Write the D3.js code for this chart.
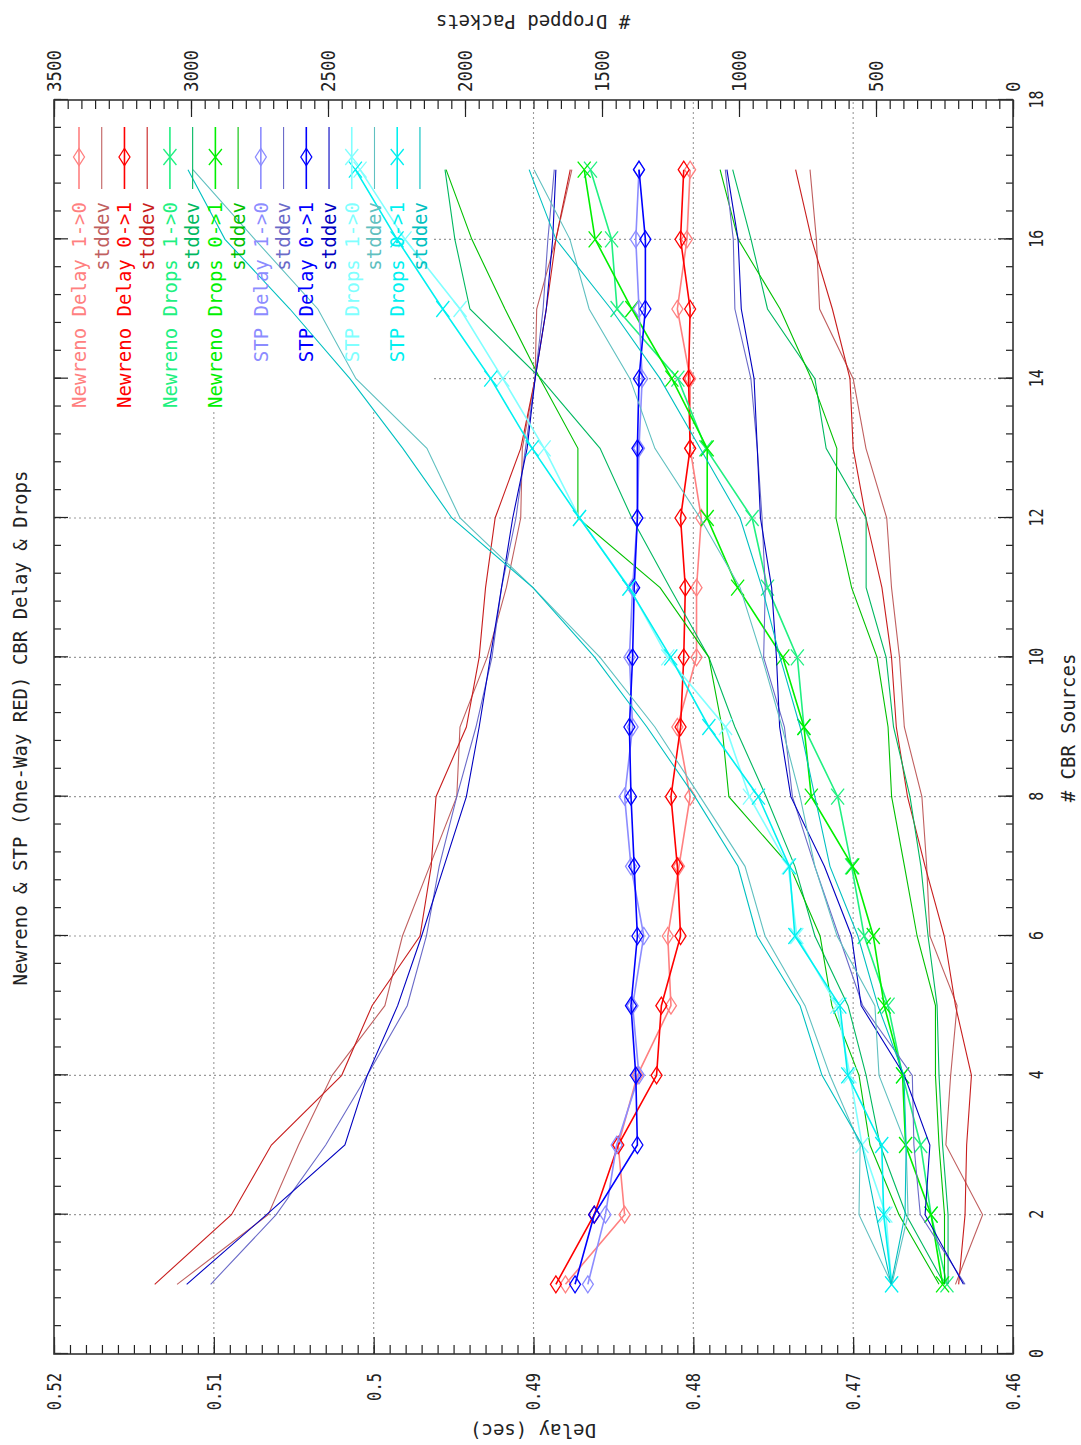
<!DOCTYPE html>
<html>
<head>
<meta charset="utf-8">
<script src="https://cdn.jsdelivr.net/npm/d3@7"></script>
<style>
  html, body { margin: 0; padding: 0; background: #fff; }
  svg { display: block; }
  text { font-family: "DejaVu Sans Mono", "Liberation Mono", monospace; }
</style>
</head>
<body>
<div id="chart"></div>
<script>
// ---- data -------------------------------------------------------------
const cbrSources = [1, 2, 3, 4, 5, 6, 7, 8, 9, 10, 11, 12, 13, 14, 15, 16, 17];

const cbrTicks = [0, 2, 4, 6, 8, 10, 12, 14, 16, 18];
const delayTicks = [0.46, 0.47, 0.48, 0.49, 0.50, 0.51, 0.52];
const dropTicks = [0, 500, 1000, 1500, 2000, 2500, 3000, 3500];

// mean CBR delay (sec)
const nrDelay10  = [0.4880, 0.4843, 0.4847, 0.4835, 0.4814, 0.4816, 0.4809, 0.4802, 0.4810, 0.4798, 0.4798, 0.4795, 0.4802, 0.4802, 0.4810, 0.4804, 0.4802];
const nrDelay01  = [0.4886, 0.4862, 0.4847, 0.4823, 0.4820, 0.4808, 0.4810, 0.4814, 0.4808, 0.4806, 0.4805, 0.4808, 0.4802, 0.4803, 0.4802, 0.4808, 0.4806];
const stpDelay10 = [0.4866, 0.4855, 0.4848, 0.4834, 0.4838, 0.4831, 0.4839, 0.4843, 0.4838, 0.4840, 0.4838, 0.4835, 0.4834, 0.4832, 0.4834, 0.4836, 0.4834];
const stpDelay01 = [0.4874, 0.4862, 0.4835, 0.4836, 0.4839, 0.4835, 0.4837, 0.4839, 0.4840, 0.4838, 0.4837, 0.4835, 0.4835, 0.4834, 0.4830, 0.4830, 0.4834];

// delay +/- one standard deviation (sec)
const nrDelay10SdHi  = [0.5123, 0.5066, 0.5047, 0.5026, 0.4993, 0.4982, 0.4965, 0.4948, 0.4946, 0.4929, 0.4917, 0.4908, 0.4907, 0.4899, 0.4898, 0.4886, 0.4876];
const nrDelay10SdLo  = [0.4636, 0.4619, 0.4642, 0.4639, 0.4635, 0.4652, 0.4654, 0.4657, 0.4668, 0.4671, 0.4676, 0.4679, 0.4692, 0.4700, 0.4721, 0.4723, 0.4727];
const nrDelay01SdHi  = [0.5137, 0.5089, 0.5064, 0.5020, 0.5001, 0.4971, 0.4964, 0.4961, 0.4942, 0.4934, 0.4930, 0.4924, 0.4908, 0.4899, 0.4892, 0.4886, 0.4877];
const nrDelay01SdLo  = [0.4634, 0.4630, 0.4629, 0.4626, 0.4636, 0.4643, 0.4655, 0.4666, 0.4673, 0.4676, 0.4682, 0.4692, 0.4700, 0.4702, 0.4713, 0.4726, 0.4736];
const stpDelay10SdHi = [0.5102, 0.5061, 0.5030, 0.5004, 0.4979, 0.4967, 0.4959, 0.4948, 0.4936, 0.4926, 0.4920, 0.4911, 0.4905, 0.4899, 0.4894, 0.4891, 0.4887];
const stpDelay10SdLo = [0.4630, 0.4658, 0.4662, 0.4663, 0.4694, 0.4709, 0.4724, 0.4738, 0.4743, 0.4756, 0.4755, 0.4757, 0.4760, 0.4764, 0.4774, 0.4775, 0.4780];
const stpDelay01SdHi = [0.5117, 0.5067, 0.5018, 0.5004, 0.4985, 0.4970, 0.4956, 0.4942, 0.4934, 0.4927, 0.4920, 0.4913, 0.4904, 0.4899, 0.4892, 0.4888, 0.4886];
const stpDelay01SdLo = [0.4631, 0.4655, 0.4652, 0.4668, 0.4695, 0.4701, 0.4718, 0.4739, 0.4746, 0.4748, 0.4751, 0.4758, 0.4760, 0.4762, 0.4770, 0.4772, 0.4779];

// mean dropped packets
const nrDrops10  = [241, 299, 337, 403, 456, 543, 589, 640, 763, 787, 896, 952, 1121, 1223, 1445, 1465, 1542];
const nrDrops01  = [257, 299, 392, 403, 470, 510, 585, 736, 763, 840, 1005, 1116, 1116, 1245, 1391, 1525, 1565];
const stpDrops10 = [443, 464, 551, 595, 643, 789, 820, 962, 1049, 1260, 1400, 1582, 1711, 1862, 2018, 2219, 2383];
const stpDrops01 = [443, 472, 479, 603, 632, 796, 816, 929, 1110, 1249, 1402, 1582, 1755, 1906, 2081, 2248, 2400];

// dropped packets +/- one standard deviation
const nrDrops10SdHi  = [250, 390, 485, 536, 602, 723, 796, 901, 1015, 1110, 1252, 1391, 1507, 1723, 1982, 2037, 2073];
const nrDrops10SdLo  = [237, 237, 257, 270, 277, 310, 336, 376, 436, 463, 536, 536, 682, 723, 896, 956, 1023];
const nrDrops01SdHi  = [270, 416, 522, 562, 661, 704, 814, 1037, 1062, 1110, 1288, 1588, 1588, 1726, 1854, 1975, 2069];
const nrDrops01SdLo  = [250, 250, 270, 283, 283, 350, 396, 443, 456, 496, 589, 646, 643, 736, 850, 1003, 1069];
const stpDrops10SdHi = [442, 562, 558, 668, 759, 905, 978, 1142, 1307, 1507, 1752, 2018, 2139, 2398, 2537, 2767, 2993];
const stpDrops10SdLo = [442, 383, 390, 489, 504, 642, 723, 777, 843, 916, 996, 1142, 1307, 1398, 1547, 1617, 1748];
const stpDrops01SdHi = [445, 500, 551, 697, 777, 934, 1004, 1161, 1336, 1526, 1752, 2048, 2227, 2420, 2639, 2876, 3011];
const stpDrops01SdLo = [445, 394, 390, 398, 493, 566, 668, 723, 777, 850, 916, 996, 1142, 1288, 1467, 1668, 1766];

// ---- plot order, legend and styling ---------------------------------
const series = [
  { label: "Newreno Delay 1->0", axis: "delay", mean: nrDelay10, color: "#ff8080", marker: "diamond" },
  { label: "stddev", axis: "delay", hi: nrDelay10SdHi, lo: nrDelay10SdLo, color: "#c06060" },
  { label: "Newreno Delay 0->1", axis: "delay", mean: nrDelay01, color: "#ff0000", marker: "diamond" },
  { label: "stddev", axis: "delay", hi: nrDelay01SdHi, lo: nrDelay01SdLo, color: "#c81e1e" },
  { label: "Newreno Drops 1->0", axis: "drops", mean: nrDrops10, color: "#20f080", marker: "cross" },
  { label: "stddev", axis: "drops", hi: nrDrops10SdHi, lo: nrDrops10SdLo, color: "#00b860" },
  { label: "Newreno Drops 0->1", axis: "drops", mean: nrDrops01, color: "#00f000", marker: "cross" },
  { label: "stddev", axis: "drops", hi: nrDrops01SdHi, lo: nrDrops01SdLo, color: "#00c000" },
  { label: "STP Delay 1->0", axis: "delay", mean: stpDelay10, color: "#8c8cff", marker: "diamond" },
  { label: "stddev", axis: "delay", hi: stpDelay10SdHi, lo: stpDelay10SdLo, color: "#6a6ac8" },
  { label: "STP Delay 0->1", axis: "delay", mean: stpDelay01, color: "#0000ff", marker: "diamond" },
  { label: "stddev", axis: "delay", hi: stpDelay01SdHi, lo: stpDelay01SdLo, color: "#0000c0" },
  { label: "STP Drops 1->0", axis: "drops", mean: stpDrops10, color: "#80ffff", marker: "cross" },
  { label: "stddev", axis: "drops", hi: stpDrops10SdHi, lo: stpDrops10SdLo, color: "#60c0c0" },
  { label: "STP Drops 0->1", axis: "drops", mean: stpDrops01, color: "#00f0f0", marker: "cross" },
  { label: "stddev", axis: "drops", hi: stpDrops01SdHi, lo: stpDrops01SdLo, color: "#00c0c0" }
];

// ---- canvas: the landscape plot is drawn into a group turned a quarter
// turn counter-clockwise so it fills the portrait page ----------------
const W = 1081, H = 1445;
const svg = d3.select("#chart").append("svg").attr("width", W).attr("height", H);
svg.append("rect").attr("width", W).attr("height", H).attr("fill", "#fff");
const g = svg.append("g").attr("transform", `translate(0,${H}) rotate(-90)`);

const plot = { left: 91, right: 1345, top: 54, bottom: 1013 };
const x = d3.scaleLinear().domain([0, 18]).range([plot.left, plot.right]);
const yDelay = d3.scaleLinear().domain([0.46, 0.52]).range([plot.bottom, plot.top]);
const yDrops = d3.scaleLinear().domain([0, 3500]).range([plot.bottom, plot.top]);
const yFor = s => (s.axis === "delay" ? yDelay : yDrops);

const FONT = 19;
const TICK_FONT = 20;
const INK = "#222";

// ---- grid ------------------------------------------------------------
const grid = g.append("g").attr("stroke", "#9a9a9a").attr("stroke-width", 1.1)
  .attr("stroke-dasharray", "2,3");
cbrTicks.filter(t => t > 0 && t < 18).forEach(t => {
  grid.append("line").attr("x1", x(t)).attr("x2", x(t))
    .attr("y1", plot.top).attr("y2", plot.bottom);
});
delayTicks.filter(t => t > 0.46 && t < 0.52).forEach(t => {
  grid.append("line").attr("x1", plot.left).attr("x2", plot.right)
    .attr("y1", yDelay(t)).attr("y2", yDelay(t));
});

// key area is opaque over the grid
const key = { left: 1035, right: plot.right, top: plot.top, bottom: 430 };
g.append("rect").attr("x", key.left).attr("y", key.top + 1)
  .attr("width", key.right - key.left - 1).attr("height", key.bottom - key.top)
  .attr("fill", "#fff");

// ---- markers ---------------------------------------------------------
function markerPath(type) {
  if (type === "diamond") return "M0,-5.5L8.5,0L0,5.5L-8.5,0Z";
  return "M-8,-6.5L8,6.5M-8,6.5L8,-6.5";
}

// ---- series ----------------------------------------------------------
const dataLayer = g.append("g").attr("fill", "none");
const legendLayer = g.append("g");
const keyRow = 22.73;
const keyY0 = 79;
const keyText = 1243;
const keyLineX1 = 1256, keyLineX2 = 1318, keyMarkX = 1288;

series.forEach((s, i) => {
  const yS = yFor(s);
  const line = d3.line().x(d => x(d[0])).y(d => yS(d[1]));
  if (s.mean) {
    const pts = cbrSources.map((c, k) => [c, s.mean[k]]);
    dataLayer.append("path").attr("d", line(pts))
      .attr("stroke", s.color).attr("stroke-width", 1.6);
    dataLayer.append("g").selectAll("path").data(pts).join("path")
      .attr("transform", d => `translate(${x(d[0])},${yS(d[1])})`)
      .attr("d", markerPath(s.marker))
      .attr("stroke", s.color).attr("stroke-width", 1.3).attr("fill", "none");
  } else {
    [s.hi, s.lo].forEach(arr => {
      const pts = cbrSources.map((c, k) => [c, arr[k]]);
      dataLayer.append("path").attr("d", line(pts))
        .attr("stroke", s.color).attr("stroke-width", 1.1);
    });
  }

  // key entry
  const cy = keyY0 + keyRow * i;
  legendLayer.append("text").attr("x", keyText).attr("y", cy).attr("dy", "0.36em")
    .attr("text-anchor", "end").attr("font-size", FONT).attr("fill", s.color)
    .text(s.label);
  legendLayer.append("line").attr("x1", keyLineX1).attr("x2", keyLineX2)
    .attr("y1", cy).attr("y2", cy).attr("stroke", s.color)
    .attr("stroke-width", s.mean ? 1.6 : 1.1);
  if (s.mean) {
    legendLayer.append("path").attr("transform", `translate(${keyMarkX},${cy})`)
      .attr("d", markerPath(s.marker)).attr("stroke", s.color)
      .attr("stroke-width", 1.3).attr("fill", "none");
  }
});

// ---- frame and axes --------------------------------------------------
function styleAxis(sel, labelWidth) {
  sel.select(".domain").remove();
  sel.selectAll(".tick line").attr("stroke", INK).attr("stroke-width", 1.2);
  sel.selectAll(".tick text").attr("fill", INK).attr("font-size", TICK_FONT)
    .attr("font-family", "'DejaVu Sans Mono', monospace")
    .each(function () {
      const t = d3.select(this);
      const n = t.text().length;
      if (n) t.attr("textLength", n * labelWidth).attr("lengthAdjust", "spacingAndGlyphs");
    });
}

const cbrMinor = d3.range(0, 46).map(i => +(i * 0.4).toFixed(1));
const delayMinor = d3.range(0, 61).map(i => +(0.46 + i * 0.001).toFixed(3));
const dropMinor = d3.range(0, 71).map(i => i * 50);

// CBR axis (bottom) and its mirror (top)
g.append("g").attr("transform", `translate(0,${plot.bottom})`)
  .call(d3.axisBottom(x).tickValues(cbrMinor).tickSize(-7).tickFormat(""))
  .call(sel => styleAxis(sel, 9));
g.append("g").attr("transform", `translate(0,${plot.bottom})`)
  .call(d3.axisBottom(x).tickValues(cbrTicks).tickSize(-15).tickPadding(16).tickFormat(d3.format("d")))
  .call(sel => styleAxis(sel, 9));
g.append("g").attr("transform", `translate(0,${plot.top})`)
  .call(d3.axisTop(x).tickValues(cbrMinor).tickSize(-7).tickFormat(""))
  .call(sel => styleAxis(sel, 9));
g.append("g").attr("transform", `translate(0,${plot.top})`)
  .call(d3.axisTop(x).tickValues(cbrTicks).tickSize(-14).tickFormat(""))
  .call(sel => styleAxis(sel, 9));

// delay axis (left)
g.append("g").attr("transform", `translate(${plot.left},0)`)
  .call(d3.axisLeft(yDelay).tickValues(delayMinor).tickSize(-9).tickFormat(""))
  .call(sel => styleAxis(sel, 9.3));
g.append("g").attr("transform", `translate(${plot.left},0)`)
  .call(d3.axisLeft(yDelay).tickValues(delayTicks).tickSize(-17).tickPadding(19).tickFormat(d3.format(".2~f")))
  .call(sel => styleAxis(sel, 9.3));

// dropped packets axis (right)
g.append("g").attr("transform", `translate(${plot.right},0)`)
  .call(d3.axisRight(yDrops).tickValues(dropMinor).tickSize(-9).tickFormat(""))
  .call(sel => styleAxis(sel, 10.5));
g.append("g").attr("transform", `translate(${plot.right},0)`)
  .call(d3.axisRight(yDrops).tickValues(dropTicks).tickSize(-17).tickPadding(8).tickFormat(d3.format("d")))
  .call(sel => styleAxis(sel, 10.5));

g.append("rect").attr("x", plot.left).attr("y", plot.top)
  .attr("width", plot.right - plot.left).attr("height", plot.bottom - plot.top)
  .attr("fill", "none").attr("stroke", "#333").attr("stroke-width", 1.6);

// ---- titles ----------------------------------------------------------
g.append("text").attr("x", 717).attr("y", 20).attr("dy", "0.36em")
  .attr("text-anchor", "middle").attr("font-size", FONT).attr("fill", INK)
  .text("Newreno & STP (One-Way RED) CBR Delay & Drops");
g.append("text").attr("x", 717).attr("y", 1068).attr("dy", "0.36em")
  .attr("text-anchor", "middle").attr("font-size", FONT).attr("fill", INK)
  .text("# CBR Sources");
g.append("text").attr("transform", "translate(14,533) rotate(-90)").attr("dy", "0.36em")
  .attr("text-anchor", "middle").attr("font-size", FONT).attr("fill", INK)
  .text("Delay (sec)");
g.append("text").attr("transform", "translate(1423,533) rotate(-90)").attr("dy", "0.36em")
  .attr("text-anchor", "middle").attr("font-size", FONT).attr("fill", INK)
  .text("# Dropped Packets");
</script>
</body>
</html>
